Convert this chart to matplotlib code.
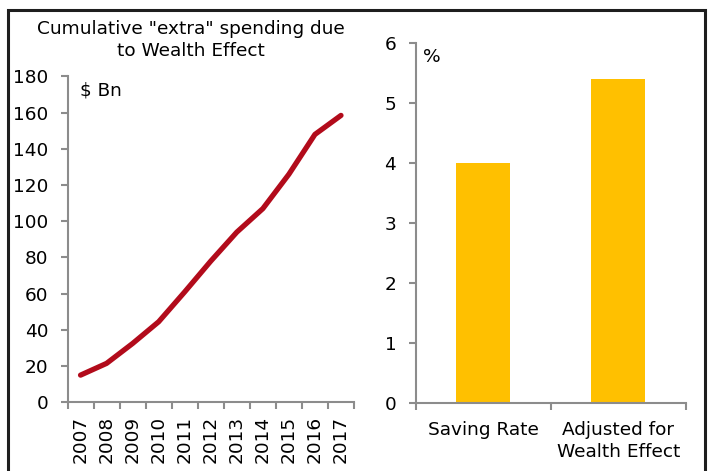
import matplotlib.pyplot as plt
from matplotlib.patches import Rectangle

plt.rcParams.update({"font.family": ["DejaVu Sans"], "font.size": 13.3})

# Cumulative extra spending, $ Bn
years = ["2007", "2008", "2009", "2010", "2011", "2012",
         "2013", "2014", "2015", "2016", "2017"]
extra_spending = [15, 21.5, 32.5, 44.5, 61, 78, 94, 107, 126, 148, 158.5]

# Saving rate, %
rate_labels = ["Saving Rate", "Adjusted for\nWealth Effect"]
rate_values = [4.0, 5.4]

AXIS_GREY = "#8c8c8c"
LINE_RED = "#b20b1b"
BAR_GOLD = "#ffc000"

fig = plt.figure(figsize=(7.1, 4.71), dpi=100)


def style_axes(ax):
    for side in ["top", "right"]:
        ax.spines[side].set_visible(False)
    for side in ["left", "bottom"]:
        ax.spines[side].set_color(AXIS_GREY)
        ax.spines[side].set_linewidth(1.5)
    ax.tick_params(which="major", color=AXIS_GREY, width=1.5, length=5)
    ax.tick_params(axis="y", pad=9)


# left panel: line chart
ax1 = fig.add_axes([0.0951, 0.1459, 0.4035, 0.6917])
x = list(range(len(years)))
ax1.plot(x, extra_spending, color=LINE_RED, lw=3.8, solid_capstyle="round",
         solid_joinstyle="round")
ax1.set_xlim(-0.5, len(years) - 0.5)
ax1.set_ylim(0, 180)
ax1.set_yticks(range(0, 181, 20))
ax1.set_xticks([i - 0.5 for i in range(len(years) + 1)])
ax1.set_xticklabels([])
ax1.set_xticks(x, minor=True)
ax1.set_xticklabels(years, minor=True, rotation=90, fontsize=13.3)
ax1.tick_params(axis="x", which="minor", length=0, pad=10)
style_axes(ax1)

# right panel: bar chart
ax2 = fig.add_axes([0.5855, 0.145, 0.3807, 0.7643])
bx = list(range(len(rate_values)))
ax2.bar(bx, rate_values, width=0.4, color=BAR_GOLD)
ax2.set_xlim(-0.5, len(rate_values) - 0.5)
ax2.set_ylim(0, 6)
ax2.set_yticks(range(0, 7))
ax2.set_xticks([-0.5, 0.5, 1.5])
ax2.set_xticklabels([])
ax2.set_xticks(bx, minor=True)
ax2.set_xticklabels(rate_labels, minor=True, linespacing=1.3)
ax2.tick_params(axis="x", which="minor", length=0, pad=13)
style_axes(ax2)

# titles and unit labels
fig.text(191 / 710, 1 - 20 / 471, 'Cumulative "extra" spending due\nto Wealth Effect',
         ha="center", va="top", linespacing=1.3)
fig.text(80 / 710, 1 - 91 / 471, "$ Bn", ha="left", va="center")
fig.text(423 / 710, 1 - 57 / 471, "%", ha="left", va="center")

# outer frame
fig.patches.append(Rectangle((8 / 710, -0.05), 697 / 710, 1.05 - 10 / 471,
                             transform=fig.transFigure, fill=False,
                             edgecolor="#1e1e1e", lw=2.2, clip_on=False))

fig.savefig("out.png", dpi=100)
